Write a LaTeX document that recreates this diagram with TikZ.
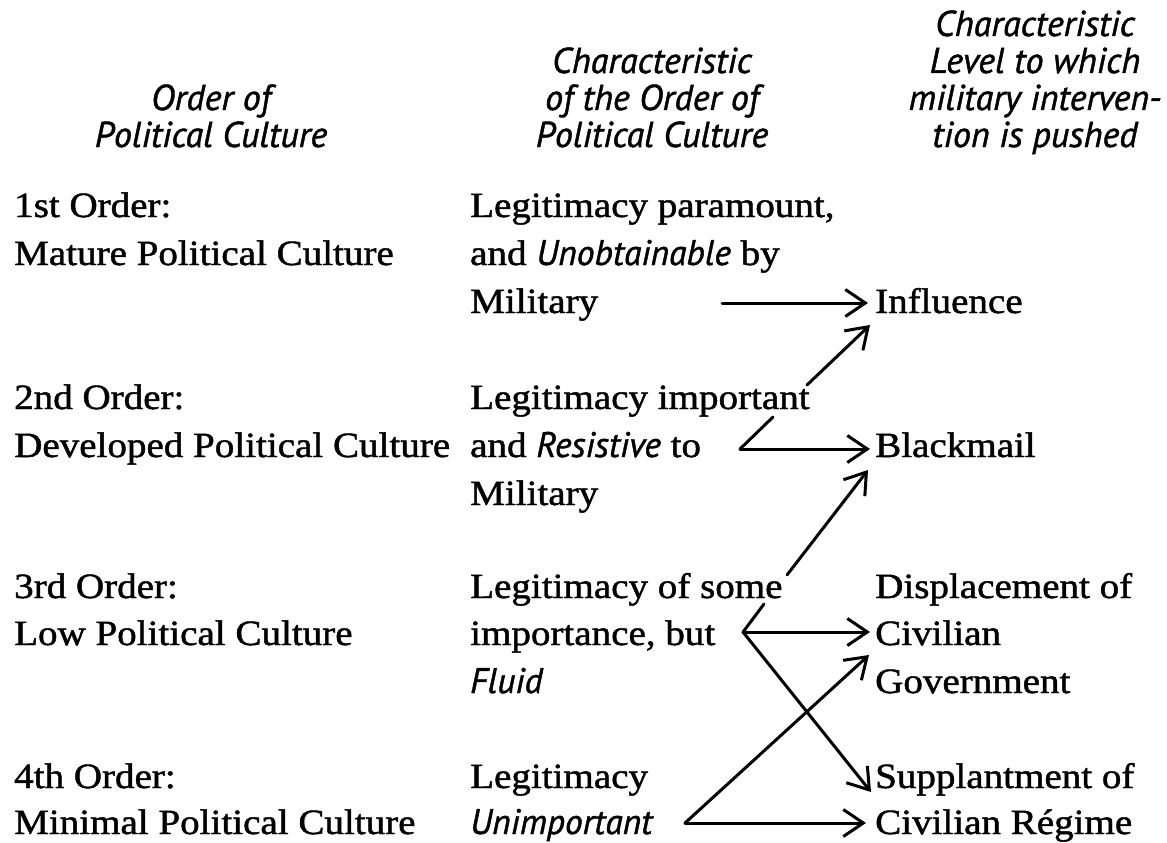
\documentclass[tikz,border=0pt]{standalone}
\usepackage{fontspec}
\setmainfont{Liberation Serif}[FakeStretch=1.10,FakeBold=1.3]
\newfontfamily\hfont{PT Sans}[FakeBold=1.2]
\newcommand\itw[1]{{\hfont\itshape #1}}
\usetikzlibrary{arrows.meta}
\begin{document}
\begin{tikzpicture}[x=1pt,y=-1pt,
  body/.style={anchor=base west, inner sep=0pt, font=\fontsize{35.5}{40}\selectfont},
  head/.style={anchor=base, inner sep=0pt, font=\hfont\itshape\fontsize{36}{38}\selectfont},
  conn/.style={line width=3pt, line cap=round},
  arr/.style={conn, -{Straight Barb[length=20pt,width=27pt,line width=3pt]}}]
\useasboundingbox[fill=white] (0,0) rectangle (1167,843);

% headings
\node[head] (h1a) at (211,110) {Order of};
\node[head] (h1b) at (211,147) {Political Culture};
\node[head] (h2a) at (652,73) {Characteristic};
\node[head] (h2b) at (652,110) {of the Order of};
\node[head] (h2c) at (652,147) {Political Culture};
\node[head] (h3a) at (1035,36) {Characteristic};
\node[head] (h3b) at (1035,73) {Level to which};
\node[head] (h3c) at (1035,110) {military interven-};
\node[head] (h3d) at (1035,147) {tion is pushed};

% column 1
\node[body] (o1a) at (14,217) {1st Order:};
\node[body] (o1b) at (14,265) {Mature Political Culture};
\node[body] (o2a) at (14,409) {2nd Order:};
\node[body] (o2b) at (14,457) {Developed Political Culture};
\node[body] (o3a) at (14,598) {3rd Order:};
\node[body] (o3b) at (14,645) {Low Political Culture};
\node[body] (o4a) at (14,788) {4th Order:};
\node[body] (o4b) at (14,834) {Minimal Political Culture};

% column 2
\node[body] (c1a) at (470,217) {Legitimacy paramount,};
\node[body] (c1b) at (470,265) {and \itw{Unobtainable} by};
\node[body] (c1c) at (470,313) {Military};
\node[body] (c2a) at (470,409) {Legitimacy important};
\node[body] (c2b) at (470,457) {and \itw{Resistive} to};
\node[body] (c2c) at (470,505) {Military};
\node[body] (c3a) at (470,598) {Legitimacy of some};
\node[body] (c3b) at (470,645) {importance, but};
\node[body] (c3c) at (470,693) {\itw{Fluid}};
\node[body] (c4a) at (470,788) {Legitimacy};
\node[body] (c4b) at (470,834) {\itw{Unimportant}};

% column 3
\node[body] (l1) at (875,313) {Influence};
\node[body] (l2) at (875,457) {Blackmail};
\node[body] (l3a) at (875,598) {Displacement of};
\node[body] (l3b) at (875,645) {Civilian};
\node[body] (l3c) at (875,693) {Government};
\node[body] (l4a) at (875,788) {Supplantment of};
\node[body] (l4b) at (875,834) {Civilian R\'egime};

% connector points
\coordinate (s1) at (722,303);
\coordinate (t1) at (868,303);
\coordinate (v2) at (740,449);
\coordinate (g2a) at (773,417);
\coordinate (g2b) at (807,385);
\coordinate (t2a) at (870,325);
\coordinate (t2b) at (870,449);
\coordinate (v3) at (743,632);
\coordinate (g3a) at (764,604);
\coordinate (g3b) at (787,575);
\coordinate (t3a) at (868,470);
\coordinate (t3b) at (870,632);
\coordinate (t3c) at (871,792);
\coordinate (v4) at (685,823);
\coordinate (t4a) at (866,823);
\coordinate (t4b) at (869,655);

% connectors
\draw[arr] (s1) -- (t1);
\draw[conn] (v2) -- (g2a);
\draw[arr] (g2b) -- (t2a);
\draw[arr] (v2) -- (t2b);
\draw[conn] (v3) -- (g3a);
\draw[arr] (g3b) -- (t3a);
\draw[arr] (v3) -- (t3b);
\draw[arr] (v3) -- (t3c);
\draw[arr] (v4) -- (t4a);
\draw[arr] (v4) -- (t4b);
\end{tikzpicture}
\end{document}
